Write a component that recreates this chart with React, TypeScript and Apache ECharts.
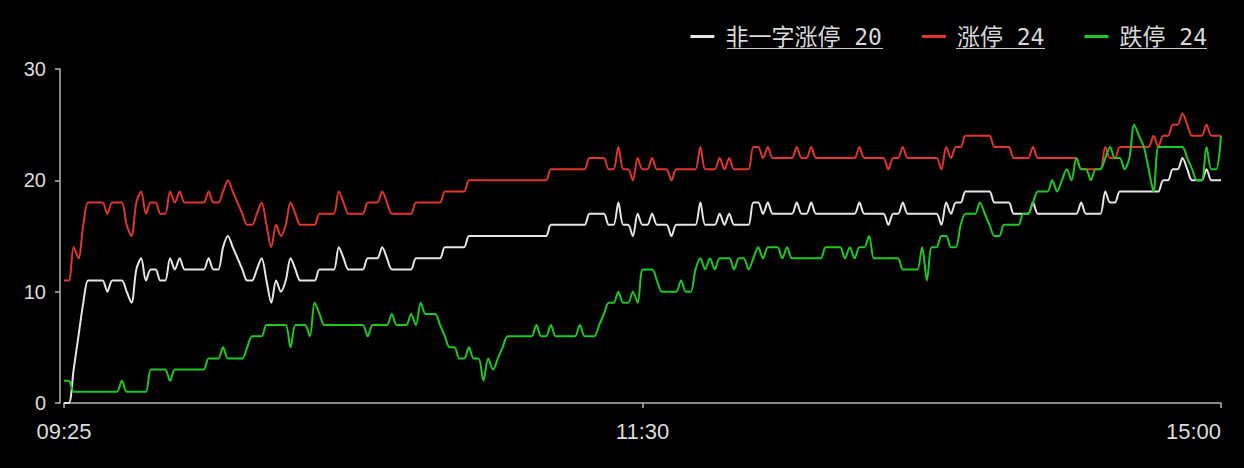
import React, { useEffect, useRef } from "react";
import * as echarts from "echarts";

// ---- categories (minutes: 09:25 auction, 09:31-11:30, 13:01-15:00) ----
const times: string[] = ["09:25"];
for (let m = 9 * 60 + 31; m <= 11 * 60 + 30; m++) times.push(String(Math.floor(m / 60)).padStart(2, "0") + ":" + String(m % 60).padStart(2, "0"));
for (let m = 13 * 60 + 1; m <= 15 * 60; m++) times.push(String(Math.floor(m / 60)).padStart(2, "0") + ":" + String(m % 60).padStart(2, "0"));

const tickLabels = ["09:25", "11:30", "15:00"];

const seriesNames = ["非一字涨停 20", "涨停 24", "跌停 24"];

// 非一字涨停
const whiteVals = [
  0, 0, 3, 6, 9, 11, 11, 11, 11, 10,
  11, 11, 11, 10, 9, 12, 13, 11, 12, 12,
  11, 11, 13, 12, 13, 12, 12, 12, 12, 12,
  13, 12, 12, 14, 15, 14, 13, 12, 11, 11,
  12, 13, 11, 9, 11, 10, 11, 13, 12, 11,
  11, 11, 11, 12, 12, 12, 12, 14, 13, 12,
  12, 12, 12, 13, 13, 13, 14, 13, 12, 12,
  12, 12, 12, 13, 13, 13, 13, 13, 13, 14,
  14, 14, 14, 14, 15, 15, 15, 15, 15, 15,
  15, 15, 15, 15, 15, 15, 15, 15, 15, 15,
  15, 16, 16, 16, 16, 16, 16, 16, 16, 17,
  17, 17, 17, 16, 16, 18, 16, 16, 15, 17,
  16, 16, 17, 16, 16, 16, 15, 16, 16, 16,
  16, 16, 18, 16, 16, 16, 17, 16, 17, 16,
  16, 16, 16, 18, 18, 17, 18, 17, 17, 17,
  17, 17, 18, 17, 17, 18, 17, 17, 17, 17,
  17, 17, 17, 17, 17, 18, 17, 17, 17, 17,
  17, 16, 17, 17, 18, 17, 17, 17, 17, 17,
  17, 17, 16, 18, 17, 18, 18, 19, 19, 19,
  19, 19, 19, 18, 18, 18, 18, 17, 17, 17,
  17, 18, 17, 17, 17, 17, 17, 17, 17, 17,
  17, 18, 17, 17, 17, 17, 19, 18, 18, 19,
  19, 19, 19, 19, 19, 19, 19, 19, 20, 20,
  21, 21, 22, 21, 20, 20, 20, 21, 20, 20,
  20,
];

// 涨停
const redVals = [
  11, 11, 14, 13, 16, 18, 18, 18, 18, 17,
  18, 18, 18, 16, 15, 18, 19, 17, 18, 18,
  17, 17, 19, 18, 19, 18, 18, 18, 18, 18,
  19, 18, 18, 19, 20, 19, 18, 17, 16, 16,
  17, 18, 16, 14, 16, 15, 16, 18, 17, 16,
  16, 16, 16, 17, 17, 17, 17, 19, 18, 17,
  17, 17, 17, 18, 18, 18, 19, 18, 17, 17,
  17, 17, 17, 18, 18, 18, 18, 18, 18, 19,
  19, 19, 19, 19, 20, 20, 20, 20, 20, 20,
  20, 20, 20, 20, 20, 20, 20, 20, 20, 20,
  20, 21, 21, 21, 21, 21, 21, 21, 21, 22,
  22, 22, 22, 21, 21, 23, 21, 21, 20, 22,
  21, 21, 22, 21, 21, 21, 20, 21, 21, 21,
  21, 21, 23, 21, 21, 21, 22, 21, 22, 21,
  21, 21, 21, 23, 23, 22, 23, 22, 22, 22,
  22, 22, 23, 22, 22, 23, 22, 22, 22, 22,
  22, 22, 22, 22, 22, 23, 22, 22, 22, 22,
  22, 21, 22, 22, 23, 22, 22, 22, 22, 22,
  22, 22, 21, 23, 22, 23, 23, 24, 24, 24,
  24, 24, 24, 23, 23, 23, 23, 22, 22, 22,
  22, 23, 22, 22, 22, 22, 22, 22, 22, 22,
  22, 21, 21, 21, 21, 21, 23, 22, 22, 23,
  23, 23, 23, 23, 23, 23, 24, 23, 24, 24,
  25, 25, 26, 25, 24, 24, 24, 25, 24, 24,
  24,
];

// 跌停
const greenVals = [
  2, 2, 1, 1, 1, 1, 1, 1, 1, 1,
  1, 1, 2, 1, 1, 1, 1, 1, 3, 3,
  3, 3, 2, 3, 3, 3, 3, 3, 3, 3,
  4, 4, 4, 5, 4, 4, 4, 4, 5, 6,
  6, 6, 7, 7, 7, 7, 7, 5, 7, 7,
  7, 6, 9, 8, 7, 7, 7, 7, 7, 7,
  7, 7, 7, 6, 7, 7, 7, 7, 8, 7,
  7, 7, 8, 7, 9, 8, 8, 8, 7, 6,
  5, 5, 4, 4, 5, 4, 4, 2, 4, 3,
  4, 5, 6, 6, 6, 6, 6, 6, 7, 6,
  6, 7, 6, 6, 6, 6, 6, 7, 6, 6,
  6, 7, 8, 9, 9, 10, 9, 9, 10, 9,
  12, 12, 12, 11, 10, 10, 10, 10, 11, 10,
  10, 12, 13, 12, 13, 12, 13, 13, 13, 12,
  13, 13, 12, 13, 14, 13, 14, 14, 14, 13,
  14, 13, 13, 13, 13, 13, 13, 13, 14, 14,
  14, 14, 13, 14, 13, 14, 14, 15, 13, 13,
  13, 13, 13, 13, 12, 12, 12, 12, 14, 11,
  14, 14, 15, 15, 14, 14, 16, 17, 17, 17,
  18, 17, 16, 15, 15, 16, 16, 16, 16, 17,
  17, 18, 19, 19, 19, 20, 19, 20, 21, 20,
  22, 21, 21, 20, 21, 21, 22, 23, 22, 22,
  21, 22, 25, 24, 23, 21, 19, 23, 23, 23,
  23, 23, 23, 22, 21, 20, 20, 23, 21, 21,
  24,
];

const colors = ["#e6e6e6", "#e0362c", "#1ec81e"];

export default function App() {
  const ref = useRef<HTMLDivElement>(null);
  useEffect(() => {
    document.body.style.margin = "0";
    document.body.style.background = "#000";
    const chart = echarts.init(ref.current!, undefined, { renderer: "svg" });
    const showTick = (_i: number, v: string) => tickLabels.includes(v);
    const axisColor = "#b4b4b4";
    const underline = (x1: number, x2: number) => ({
      type: "line",
      shape: { x1, y1: 48.5, x2, y2: 48.5 },
      style: { stroke: "#c8c8c8", lineWidth: 1 },
      silent: true,
    });
    chart.setOption({
      animation: false,
      backgroundColor: "#000",
      legend: {
        right: 32,
        top: 20,
        icon: "rect",
        itemWidth: 24,
        itemHeight: 3,
        itemGap: 40,
        data: seriesNames,
        textStyle: {
          color: "#d8d8d8",
          fontSize: 23,
          fontFamily: "'DejaVu Sans Mono', 'Noto Sans CJK SC', monospace",
          padding: [0, 0, 0, 6],
        },
      },
      grid: { left: 64, right: 23, top: 69, bottom: 65, containLabel: false },
      xAxis: {
        type: "category",
        data: times,
        boundaryGap: false,
        axisLine: { lineStyle: { color: axisColor, width: 1.5 } },
        axisTick: { show: true, length: 5, interval: showTick, lineStyle: { color: axisColor, width: 1.5 } },
        axisLabel: {
          interval: showTick,
          color: "#dcdcdc",
          fontSize: 22,
          margin: 17,
          fontFamily: "'Liberation Sans', Arial, sans-serif",
          alignMaxLabel: "right",
        },
        splitLine: { show: false },
      },
      yAxis: {
        type: "value",
        min: 0,
        max: 30,
        interval: 10,
        offset: 4,
        axisLine: { show: true, lineStyle: { color: axisColor, width: 1.5 } },
        axisTick: { show: true, length: 5, lineStyle: { color: axisColor, width: 1.5 } },
        axisLabel: {
          color: "#dcdcdc",
          fontSize: 20,
          margin: 14,
          fontFamily: "'Liberation Sans', Arial, sans-serif",
        },
        splitLine: { show: false },
      },
      series: [whiteVals, redVals, greenVals].map((d, k) => ({
        name: seriesNames[k],
        type: "line",
        data: d,
        showSymbol: false,
        smooth: 0.3,
        color: colors[k],
        lineStyle: { width: 2, color: colors[k] },
      })),
      graphic: [underline(727, 883), underline(956, 1045), underline(1120, 1207)],
    });
    return () => chart.dispose();
  }, []);
  return <div ref={ref} style={{ width: 1244, height: 468, background: "#000" }} />;
}
